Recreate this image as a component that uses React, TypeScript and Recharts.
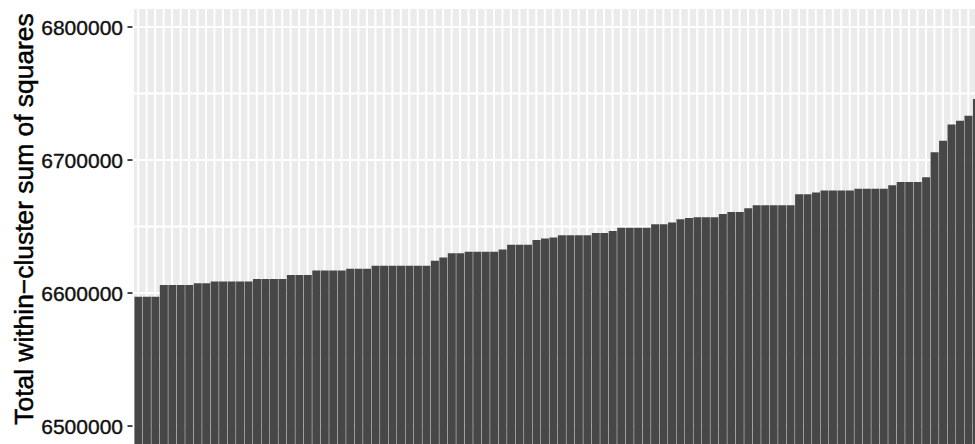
import React from "react";
import { BarChart, Bar, XAxis, YAxis, CartesianGrid } from "recharts";

// one bar per run, sorted by total within-cluster SS
const runs = [
  "1", "2", "3", "4", "5", "6", "7", "8", "9", "10",
  "11", "12", "13", "14", "15", "16", "17", "18", "19", "20",
  "21", "22", "23", "24", "25", "26", "27", "28", "29", "30",
  "31", "32", "33", "34", "35", "36", "37", "38", "39", "40",
  "41", "42", "43", "44", "45", "46", "47", "48", "49", "50",
  "51", "52", "53", "54", "55", "56", "57", "58", "59", "60",
  "61", "62", "63", "64", "65", "66", "67", "68", "69", "70",
  "71", "72", "73", "74", "75", "76", "77", "78", "79", "80",
  "81", "82", "83", "84", "85", "86", "87", "88", "89", "90",
  "91", "92", "93", "94", "95", "96", "97", "98", "99", "100",
];

const wss = [
  6597300, 6597300, 6597300, 6606000, 6606000, 6606000, 6606000, 6607300, 6607300, 6608600,
  6608600, 6608600, 6608600, 6608600, 6610600, 6610600, 6610600, 6610600, 6613600, 6613600,
  6613600, 6616900, 6616900, 6616900, 6616900, 6618200, 6618200, 6618200, 6620600, 6620600,
  6620600, 6620600, 6620600, 6620600, 6620600, 6624300, 6626800, 6630000, 6630000, 6631000,
  6631000, 6631000, 6631000, 6632700, 6636300, 6636300, 6636300, 6639800, 6641000, 6641800,
  6643500, 6643500, 6643500, 6643500, 6645200, 6645200, 6646700, 6649100, 6649100, 6649100,
  6649100, 6651800, 6651800, 6653000, 6655400, 6656500, 6657000, 6657000, 6657000, 6659500,
  6661000, 6661000, 6663700, 6666000, 6666000, 6666000, 6666000, 6666000, 6674200, 6674200,
  6675500, 6677000, 6677000, 6677000, 6677000, 6678400, 6678400, 6678400, 6678400, 6681000,
  6683500, 6683500, 6683500, 6687000, 6705800, 6714500, 6726800, 6729600, 6733300, 6745800,
];

const majorTicks = [6500000, 6600000, 6700000, 6800000];
const allTicks = [6500000, 6550000, 6600000, 6650000, 6700000, 6750000, 6800000];

const data = runs.map((run, i) => ({ run, wss: wss[i] }));

const FONT = '"Liberation Sans", Arial, Helvetica, sans-serif';

// labels + tick marks only on the major breaks, minor ones just get a grid line
const YTick = (props: any) => {
  const { x, y, payload } = props;
  if (!majorTicks.includes(payload.value)) return <g />;
  return (
    <g>
      <line x1={x + 4.5} x2={x + 9.5} y1={y} y2={y} stroke="#333" strokeWidth={1.8} />
      <text
        x={x}
        y={y}
        dy="0.36em"
        textAnchor="end"
        fontSize={21}
        fontFamily={FONT}
        fill="#111"
        stroke="#111"
        strokeWidth={0.4}
      >
        {payload.value}
      </text>
    </g>
  );
};

// x axis is cut off in the source, keep the ticks (for the grid) but draw nothing
const NoTick = () => <g />;

const YLabel = () => (
  <text
    x={33}
    y={219}
    transform="rotate(-90, 33, 219)"
    textAnchor="middle"
    fontSize={26.4}
    fontFamily={FONT}
    fill="#000"
    stroke="#000"
    strokeWidth={0.5}
  >
    Total within−cluster sum of squares
  </text>
);

export default function App() {
  return (
    <div
      style={{
        position: "absolute",
        left: 0,
        top: 0,
        width: 975,
        height: 444,
        overflow: "hidden",
        background: "#fff",
      }}
    >
      <BarChart
        width={982}
        height={444}
        data={data}
        margin={{ top: 8, right: 0, bottom: 0, left: 0 }}
        barCategoryGap="5%"
      >
        <CartesianGrid
          fill="#EBEBEB"
          fillOpacity={1}
          stroke="#FFFFFF"
          strokeWidth={2}
        />
        <XAxis
          dataKey="run"
          type="category"
          interval={0}
          height={0}
          padding={{ left: 1, right: 1 }}
          tick={<NoTick />}
          tickLine={false}
          axisLine={false}
        />
        <YAxis
          width={133}
          domain={[6486500, 6814300]}
          allowDataOverflow
          ticks={allTicks}
          interval={0}
          tickSize={5}
          tickMargin={5}
          tickLine={false}
          axisLine={false}
          tick={<YTick />}
          label={<YLabel />}
        />
        <Bar dataKey="wss" fill="#474747" isAnimationActive={false} />
      </BarChart>
    </div>
  );
}
